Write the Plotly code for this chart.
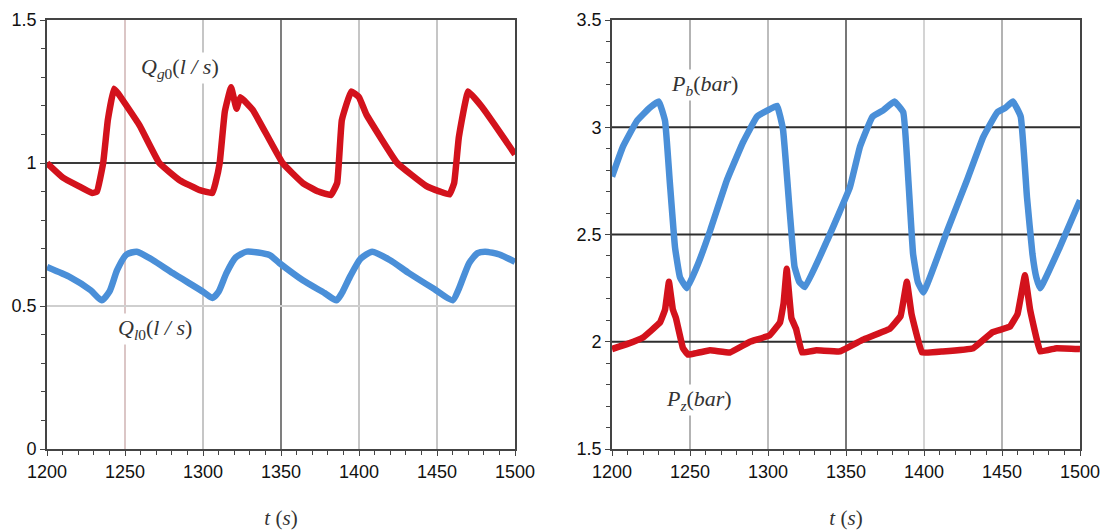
import plotly.graph_objects as go

# ---------------- data ----------------
qg0_t = [1200, 1210, 1220, 1229, 1232, 1236, 1239, 1243, 1246, 1251, 1259.5, 1272, 1285, 1298, 1306,
         1308, 1310.7, 1314, 1318, 1321.5, 1324, 1332, 1351, 1364, 1374, 1382, 1386, 1389, 1395, 1400,
         1404.7, 1424.5, 1443, 1452, 1458, 1461, 1464, 1470, 1479, 1490, 1500]
qg0_v = [1.00, 0.95, 0.92, 0.895, 0.90, 1.00, 1.15, 1.26, 1.24, 1.20, 1.13, 1.00, 0.94, 0.905, 0.895,
         0.93, 1.00, 1.18, 1.265, 1.19, 1.23, 1.185, 1.00, 0.93, 0.90, 0.888, 0.93, 1.15, 1.25, 1.23,
         1.17, 1.00, 0.92, 0.90, 0.89, 0.93, 1.09, 1.25, 1.195, 1.11, 1.03]

ql0_t = [1200, 1215, 1228, 1235, 1240, 1245, 1251, 1257.5, 1268, 1280.6, 1300, 1306, 1310, 1315,
         1321, 1328, 1342.6, 1349, 1364, 1378, 1385.5, 1389, 1394, 1401, 1408.5, 1420, 1432, 1448,
         1460, 1464, 1470.6, 1476, 1481, 1490, 1500]
ql0_v = [0.636, 0.60, 0.555, 0.52, 0.55, 0.626, 0.68, 0.69, 0.66, 0.615, 0.55, 0.528, 0.55, 0.615,
         0.67, 0.69, 0.678, 0.65, 0.59, 0.545, 0.52, 0.545, 0.60, 0.665, 0.69, 0.66, 0.615, 0.56,
         0.52, 0.56, 0.65, 0.685, 0.69, 0.68, 0.654]

pb_t = [1200, 1207, 1216, 1224, 1230, 1234, 1237, 1240.4, 1243.6, 1248, 1255, 1263, 1273.7, 1284,
        1293, 1300, 1305.8, 1309.6, 1314, 1317, 1320, 1323.7, 1337.8, 1352.5, 1359, 1367, 1374,
        1381, 1386.7, 1390, 1393, 1396, 1399.6, 1415, 1427.6, 1438, 1447, 1452, 1457, 1462, 1466,
        1469.5, 1472, 1474.5, 1487, 1500]
pb_v = [2.77, 2.91, 3.03, 3.09, 3.12, 3.03, 2.75, 2.44, 2.30, 2.25, 2.36, 2.52, 2.754, 2.93,
        3.05, 3.08, 3.10, 2.99, 2.60, 2.35, 2.28, 2.255, 2.47, 2.72, 2.91, 3.05, 3.08,
        3.12, 3.07, 2.75, 2.41, 2.28, 2.23, 2.52, 2.754, 2.955, 3.07, 3.09, 3.12, 3.05, 2.675,
        2.41, 2.30, 2.25, 2.44, 2.66]

pz_t = [1200, 1210, 1219.9, 1230.8, 1234, 1236.5, 1239, 1241, 1245.5, 1248.7, 1262.8, 1275.6,
        1288.5, 1301, 1307.7, 1310, 1312, 1315, 1318, 1321.8, 1331, 1346, 1360.9, 1378, 1385,
        1389, 1392, 1398.7, 1412, 1431.6, 1444, 1455, 1460, 1464.7, 1468, 1474.5, 1485, 1500]
pz_v = [1.966, 1.99, 2.02, 2.09, 2.15, 2.28, 2.15, 2.11, 1.97, 1.94, 1.96, 1.95,
        2.00, 2.03, 2.09, 2.18, 2.34, 2.11, 2.06, 1.95, 1.96, 1.955, 2.01, 2.06, 2.12,
        2.28, 2.13, 1.95, 1.955, 1.97, 2.045, 2.07, 2.13, 2.31, 2.15, 1.955, 1.97, 1.966]

x_ticks = [1200, 1250, 1300, 1350, 1400, 1450, 1500]
left_y_ticks = [0, 0.5, 1, 1.5]
right_y_ticks = [1.5, 2, 2.5, 3, 3.5]

# grid lines (value, colour)
left_vgrid = [(1250, "#c8a8a8"), (1300, "#a8a8a8"), (1350, "#3a3a3a"), (1400, "#a8a8a8"), (1450, "#a8a8a8")]
left_hgrid = [(0.5, "#cfcfcf"), (1.0, "#3a3a3a")]
right_vgrid = [(1250, "#8a8a8a"), (1300, "#9a9a9a"), (1350, "#2e2e2e"), (1400, "#bdbdbd"), (1450, "#8a8a8a")]
right_hgrid = [(2.0, "#2e2e2e"), (2.5, "#2e2e2e"), (3.0, "#2e2e2e")]

RED = "#d3121c"
BLUE = "#4a8fd8"
LW = 6.5

fig = go.Figure()
fig.add_trace(go.Scatter(x=qg0_t, y=qg0_v, mode="lines", line=dict(color=RED, width=LW, shape="spline", smoothing=0.3),
                         xaxis="x", yaxis="y", showlegend=False))
fig.add_trace(go.Scatter(x=ql0_t, y=ql0_v, mode="lines", line=dict(color=BLUE, width=LW, shape="spline", smoothing=0.6),
                         xaxis="x", yaxis="y", showlegend=False))
fig.add_trace(go.Scatter(x=pb_t, y=pb_v, mode="lines", line=dict(color=BLUE, width=LW, shape="spline", smoothing=0.3),
                         xaxis="x2", yaxis="y2", showlegend=False))
fig.add_trace(go.Scatter(x=pz_t, y=pz_v, mode="lines", line=dict(color=RED, width=LW, shape="spline", smoothing=0.2),
                         xaxis="x2", yaxis="y2", showlegend=False))

shapes = []
for v, c in left_vgrid:
    shapes.append(dict(type="line", xref="x", yref="y domain", x0=v, x1=v, y0=0, y1=1,
                       line=dict(color=c, width=1.3), layer="below"))
for v, c in left_hgrid:
    shapes.append(dict(type="line", xref="x domain", yref="y", x0=0, x1=1, y0=v, y1=v,
                       line=dict(color=c, width=1.8), layer="below"))
for v, c in right_vgrid:
    shapes.append(dict(type="line", xref="x2", yref="y2 domain", x0=v, x1=v, y0=0, y1=1,
                       line=dict(color=c, width=1.3), layer="below"))
for v, c in right_hgrid:
    shapes.append(dict(type="line", xref="x2 domain", yref="y2", x0=0, x1=1, y0=v, y1=v,
                       line=dict(color=c, width=1.8), layer="below"))

tickfont = dict(family="Liberation Sans Narrow, Liberation Sans, Arial", size=18, color="#111111")
titlefont = dict(family="Liberation Serif, DejaVu Serif", size=21, color="#333333")
lblfont = dict(family="Liberation Serif, DejaVu Serif", size=22, color="#333333")

def xax(domain, anchor):
    return dict(domain=domain, anchor=anchor, range=[1200, 1500], tickvals=x_ticks,
                ticks="outside", ticklen=5, tickcolor="#444", tickwidth=1.3,
                minor=dict(dtick=10, ticks="outside", ticklen=4, tickcolor="#444", showgrid=False),
                showgrid=False, zeroline=False, showline=True, linecolor="#444", linewidth=1.8, mirror=True,
                automargin=False, tickfont=tickfont,
                title=dict(text="<i>t</i> (<i>s</i>)", font=titlefont, standoff=30))

def yax(domain, anchor, rng, ticks, txt):
    return dict(domain=domain, anchor=anchor, range=rng, tickvals=ticks, ticktext=txt,
                ticks="outside", ticklen=5, tickcolor="#444", tickwidth=1.3,
                minor=dict(dtick=0.1, ticks="outside", ticklen=4, tickcolor="#444", showgrid=False),
                showgrid=False, zeroline=False, showline=True, linecolor="#444", linewidth=1.8, mirror=True,
                automargin=False, tickfont=tickfont)

fig.update_layout(
    width=1101, height=530,
    margin=dict(l=0, r=0, t=20, b=81),
    paper_bgcolor="white", plot_bgcolor="white",
    xaxis=xax([47 / 1101, 515 / 1101], "y"),
    yaxis=yax([0, 1], "x", [0, 1.5], left_y_ticks, ["0", "0.5", "1", "1.5"]),
    xaxis2=xax([612 / 1101, 1080 / 1101], "y2"),
    yaxis2=yax([0, 1], "x2", [1.5, 3.5], right_y_ticks, ["1.5", "2", "2.5", "3", "3.5"]),
    shapes=shapes,
    annotations=[
        dict(x=1285, y=1.332, xref="x", yref="y", showarrow=False, bgcolor="white",
             text="<i>Q</i><sub><i>g</i>0</sub>(<i>l / s</i>)", font=lblfont),
        dict(x=1269, y=0.42, xref="x", yref="y", showarrow=False, bgcolor="white",
             text="<i>Q</i><sub><i>l</i>0</sub>(<i>l / s</i>)", font=lblfont),
        dict(x=1259.6, y=3.197, xref="x2", yref="y2", showarrow=False, bgcolor="white",
             text="<i>P</i><sub><i>b</i></sub>(<i>bar</i>)", font=lblfont),
        dict(x=1256, y=1.73, xref="x2", yref="y2", showarrow=False, bgcolor="white",
             text="<i>P</i><sub><i>z</i></sub>(<i>bar</i>)", font=lblfont),
    ],
)

fig.write_html("out.html")
